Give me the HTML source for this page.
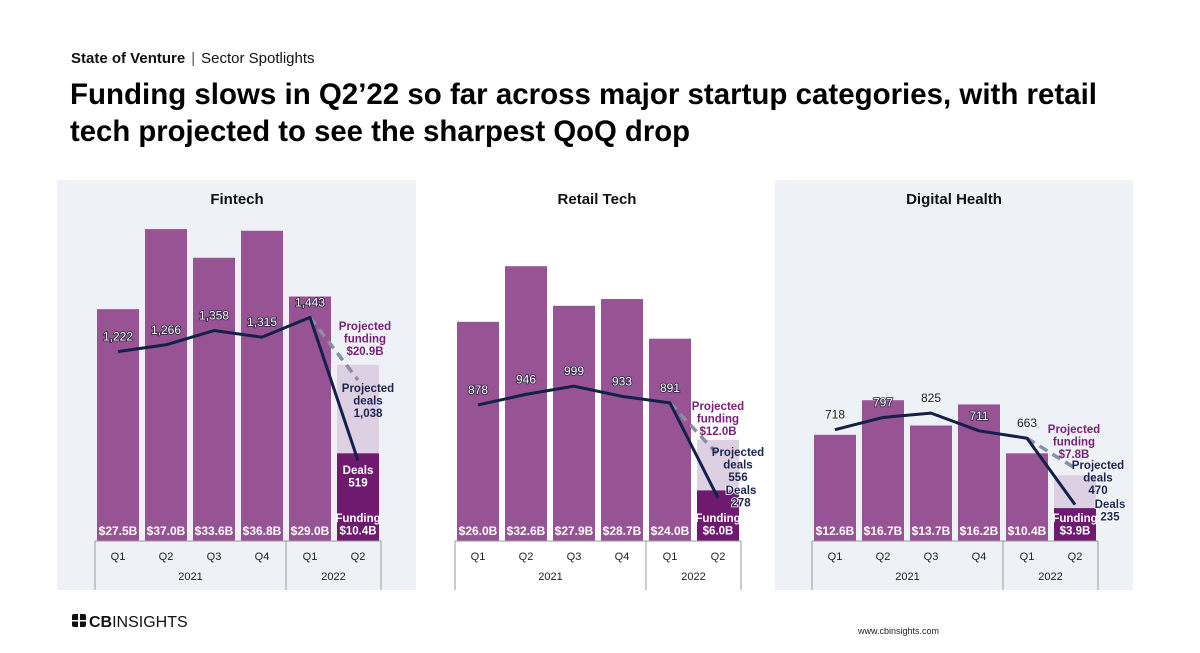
<!DOCTYPE html>
<html><head><meta charset="utf-8">
<style>
body{margin:0;background:#fff;}
svg{display:block;font-family:"Liberation Sans",Arial,sans-serif;}
</style></head>
<body>
<svg id="chart" width="1200" height="653" viewBox="0 0 1200 653" xmlns="http://www.w3.org/2000/svg">
  <text x="71" y="63" font-size="15" fill="#111"><tspan font-weight="bold">State of Venture</tspan><tspan dx="6" fill="#555">|</tspan><tspan dx="6">Sector Spotlights</tspan></text>
  <text x="70" y="104" font-size="30" font-weight="bold" fill="#000" textLength="1027" lengthAdjust="spacingAndGlyphs">Funding slows in Q2’22 so far across major startup categories, with retail</text>
  <text x="70" y="141" font-size="30" font-weight="bold" fill="#000" textLength="620" lengthAdjust="spacingAndGlyphs">tech projected to see the sharpest QoQ drop</text>
  <rect x="57" y="180" width="359" height="410" fill="#eef1f5"/>
  <rect x="775" y="180" width="358" height="410" fill="#eef1f5"/>
  <g id="panels"></g>
  <g>
    <rect x="72" y="614" width="14" height="13" rx="2" fill="#111"/>
    <rect x="78" y="614" width="2" height="13" fill="#fff"/>
    <rect x="72" y="620" width="14" height="1.5" fill="#fff"/>
    <text x="89" y="627" font-size="16" font-weight="bold" fill="#111">CB<tspan font-weight="normal">INSIGHTS</tspan></text>
  </g>
  <text x="858" y="634" font-size="9" fill="#222">www.cbinsights.com</text>
</svg>
<script>
const quarters = ["Q1","Q2","Q3","Q4","Q1","Q2"];
const years = ["2021","2022"];
const panelTitles = ["Fintech","Retail Tech","Digital Health"];
const fintechFunding = [27.5,37.0,33.6,36.8,29.0,10.4];
const fintechDeals = [1222,1266,1358,1315,1443,519];
const fintechProjFunding = 20.9;
const fintechProjDeals = 1038;
const retailFunding = [26.0,32.6,27.9,28.7,24.0,6.0];
const retailDeals = [878,946,999,933,891,278];
const retailProjFunding = 12.0;
const retailProjDeals = 556;
const healthFunding = [12.6,16.7,13.7,16.2,10.4,3.9];
const healthDeals = [718,797,825,711,663,235];
const healthProjFunding = 7.8;
const healthProjDeals = 470;

const NS="http://www.w3.org/2000/svg";
const root=document.getElementById('panels');
const BASE=541, FS=8.43, DS=0.155, BW=42, STEP=48;
function yF(v){return BASE-v*FS;}
function yD(v){return BASE-v*DS;}
function mk(tag,attrs,parent){const e=document.createElementNS(NS,tag);for(const k in attrs)e.setAttribute(k,attrs[k]);(parent||root).appendChild(e);return e;}
function txt(parent,x,y,s,size,fill,weight,anchor){const t=mk('text',{x:x,y:y,'font-size':size,fill:fill,'font-weight':weight||'normal','text-anchor':anchor||'middle'},parent);t.textContent=s;return t;}
function fmtD(v){return v.toLocaleString('en-US');}

const panels=[
 {key:'fintech',x0:97,title:panelTitles[0],tx:237,f:fintechFunding,d:fintechDeals,pf:fintechProjFunding,pd:fintechProjDeals,
  pfL:[365,330],pdL:[368,392],dL:[358,474]},
 {key:'retail-tech',x0:457,title:panelTitles[1],tx:597,f:retailFunding,d:retailDeals,pf:retailProjFunding,pd:retailProjDeals,
  pfL:[718,410],pdL:[738,456],dL:[741,494]},
 {key:'digital-health',x0:814,title:panelTitles[2],tx:954,f:healthFunding,d:healthDeals,pf:healthProjFunding,pd:healthProjDeals,
  pfL:[1074,433],pdL:[1098,469],dL:[1110,508]}
];
panels.forEach(p=>{
  const g=mk('g',{});
  
  
  const t=txt(g,p.tx,204,p.title,15,'#111','bold');
  
  
  const cx=i=>p.x0+i*STEP+BW/2;
  const pr=mk('rect',{x:p.x0+5*STEP,y:yF(p.pf),width:BW,height:BASE-yF(p.pf),fill:'#dcd0e2'},g);
  
  
  p.f.forEach((v,i)=>{
    const r=mk('rect',{x:p.x0+i*STEP,y:yF(v),width:BW,height:BASE-yF(v),fill:i==5?'#6e1a6e':'#975394'},g);
    
    
    if(i<5){
      const l=txt(g,cx(i),535,'$'+v.toFixed(1)+'B',12,'#fff','bold');
      
      
    }
  });
  const dl=mk('line',{x1:cx(4),y1:yD(p.d[4]),x2:cx(5),y2:yD(p.pd),stroke:'#8a8fa6','stroke-width':3.5,'stroke-dasharray':'9,6'},g);
  
  
  const pts=p.d.map((v,i)=>cx(i)+','+yD(v)).join(' ');
  const pl=mk('polyline',{points:pts,fill:'none',stroke:'#12204a','stroke-width':3,'stroke-linejoin':'round'},g);
  
  
  p.d.forEach((v,i)=>{
    if(i==5)return;
    const ly=yD(v)-11;
    const inside=ly-3>yF(p.f[i]);
    const l=txt(g,cx(i),ly,fmtD(v),12,inside?'#fff':'#222','normal');
    if(inside){l.setAttribute('stroke','#2a2240');l.setAttribute('stroke-width','1.6');l.setAttribute('paint-order','stroke');}
    
    
  });
  const ann=(x,y,lines,fill,name,outline)=>{
    const a=mk('g',{},g);
    
    
    lines.forEach((s,j)=>{const tt=txt(a,x,y+j*12.5,s,11.5,fill,'bold');
      if(outline){tt.setAttribute('stroke','#fff');tt.setAttribute('stroke-width','1.5');tt.setAttribute('paint-order','stroke');}});
  };
  ann(p.pfL[0],p.pfL[1],['Projected','funding','$'+p.pf.toFixed(1)+'B'],'#7a1f7a','projected-funding-annotation');
  ann(p.pdL[0],p.pdL[1],['Projected','deals',fmtD(p.pd)],'#1a2550','projected-deals-annotation');
  const dIn=p.key==='fintech';
  ann(p.dL[0],p.dL[1],['Deals',fmtD(p.d[5])],dIn?'#fff':'#1a2550','deals-annotation',!dIn);
  ann(cx(5),522,['Funding','$'+p.f[5].toFixed(1)+'B'],'#fff','funding-annotation');
  const ax=mk('g',{stroke:'#999','stroke-width':1},g);
  
  
  const L=p.x0-2, R=p.x0+5*STEP+BW+2, S=p.x0+4*STEP-3;
  mk('line',{x1:L,y1:BASE,x2:R,y2:BASE},ax);
  mk('line',{x1:L,y1:BASE,x2:L,y2:590},ax);
  mk('line',{x1:R,y1:BASE,x2:R,y2:590},ax);
  mk('line',{x1:S,y1:BASE,x2:S,y2:590},ax);
  quarters.forEach((q,i)=>{
    const l=txt(g,cx(i),560,q,11,'#222');
    
    
  });
  [[(L+S)/2,years[0]],[(S+R)/2,years[1]]].forEach(([x,y])=>{
    const l=txt(g,x,580,y,11,'#222');
    
    
  });
});
</script>
</body></html>
